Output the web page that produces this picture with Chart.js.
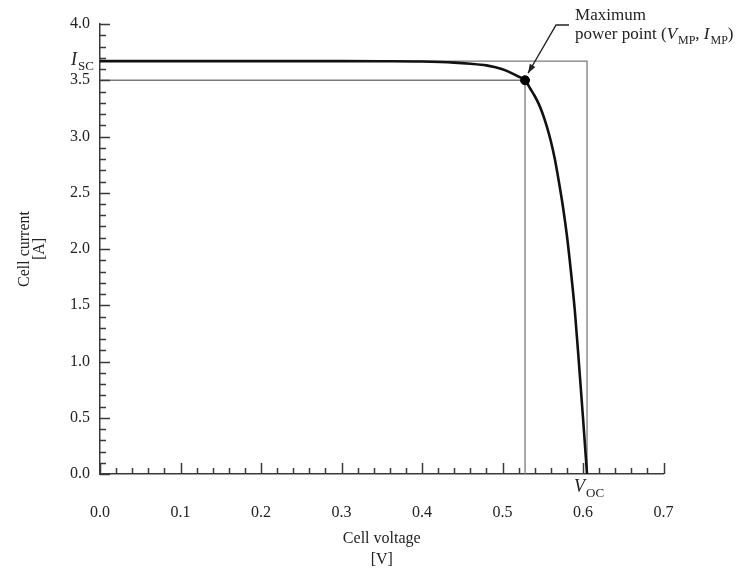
<!DOCTYPE html>
<html>
<head>
<meta charset="utf-8">
<script src="https://cdn.jsdelivr.net/npm/chart.js@4/dist/chart.umd.min.js"></script>
<style>
  html, body { margin: 0; padding: 0; background: #fff; }
  #wrap { width: 750px; height: 572px; position: relative; }
</style>
</head>
<body>
<div id="wrap"><canvas id="iv"></canvas></div>
<script>
// I–V characteristic of a single solar cell
const voltage = [0, 0.1, 0.2, 0.3, 0.35, 0.40, 0.44, 0.46, 0.48, 0.49, 0.50, 0.51, 0.52, 0.528,
                 0.535, 0.54, 0.545, 0.55, 0.555, 0.56, 0.565, 0.57, 0.575, 0.58, 0.585, 0.59, 0.595, 0.60, 0.605];
const current = [3.67, 3.67, 3.67, 3.67, 3.669, 3.666, 3.657, 3.647, 3.632, 3.617, 3.597, 3.568, 3.533, 3.50,
                 3.42, 3.36, 3.29, 3.20, 3.09, 2.96, 2.80, 2.60, 2.38, 2.12, 1.80, 1.44, 0.98, 0.50, 0];

const ISC = 3.67;   // short-circuit current [A]
const VOC = 0.605;  // open-circuit voltage [V]
const VMP = 0.528;  // voltage at maximum power point [V]
const IMP = 3.50;   // current at maximum power point [A]

const xTickLabels = ['0.0', '0.1', '0.2', '0.3', '0.4', '0.5', '0.6', '0.7'];
const yTickLabels = ['0.0', '0.5', '1.0', '1.5', '2.0', '2.5', '3.0', '3.5', '4.0'];

const SERIF = '"Liberation Serif", "DejaVu Serif", serif';
const AXIS_COLOR = '#3a3a3a';
const TEXT_COLOR = '#222';

const curvePoints = voltage.map((v, i) => ({ x: v, y: current[i] }));

// Draw a run of text pieces: {t, italic, sub}
function drawRich(ctx, x, y, pieces, size) {
  let cx = x;
  pieces.forEach(p => {
    const fs = p.sub ? Math.round(size * 0.72) : size;
    ctx.font = (p.italic ? 'italic ' : '') + fs + 'px ' + SERIF;
    const dy = p.sub ? size * 0.28 : 0;
    ctx.fillText(p.t, cx, y + dy);
    cx += ctx.measureText(p.t).width + (p.italic ? 1 : 0);
  });
  return cx;
}
function richWidth(ctx, pieces, size) {
  let w = 0;
  pieces.forEach(p => {
    const fs = p.sub ? Math.round(size * 0.72) : size;
    ctx.font = (p.italic ? 'italic ' : '') + fs + 'px ' + SERIF;
    w += ctx.measureText(p.t).width + (p.italic ? 1 : 0);
  });
  return w;
}

// Inward tick marks: long at labelled values, short in between
const tickMarks = {
  id: 'tickMarks',
  afterDatasetsDraw(chart) {
    const { ctx, chartArea, scales: { x, y } } = chart;
    ctx.save();
    ctx.strokeStyle = AXIS_COLOR;
    ctx.lineWidth = 1.5;
    ctx.beginPath();
    for (let i = 0; i <= 40; i++) {
      const py = Math.round(y.getPixelForValue(i / 10)) + 0.5;
      const len = i % 5 === 0 ? 10 : 6;
      ctx.moveTo(chartArea.left, py);
      ctx.lineTo(chartArea.left + len, py);
    }
    for (let i = 0; i <= 35; i++) {
      const px = Math.round(x.getPixelForValue(i * 0.02)) + 0.5;
      const len = i % 5 === 0 ? 11 : 6;
      ctx.moveTo(px, chartArea.bottom);
      ctx.lineTo(px, chartArea.bottom - len);
    }
    ctx.stroke();
    ctx.restore();
  }
};

// Isc, Voc and maximum-power-point labels
const annotations = {
  id: 'annotations',
  afterDraw(chart) {
    const { ctx, chartArea, scales: { x, y } } = chart;
    ctx.save();
    ctx.fillStyle = TEXT_COLOR;
    ctx.textBaseline = 'alphabetic';
    ctx.textAlign = 'left';

    // I_SC beside the y axis
    const iscPieces = [{ t: 'I', italic: true }, { t: 'SC', sub: true }];
    const iscY = y.getPixelForValue(ISC);
    const iscW = richWidth(ctx, iscPieces, 18);
    drawRich(ctx, chartArea.left - 6 - iscW, iscY + 4, iscPieces, 18);

    // V_OC under the x axis
    const vocX = x.getPixelForValue(VOC);
    drawRich(ctx, vocX - 13, chartArea.bottom + 18, [{ t: 'V', italic: true }, { t: 'OC', sub: true }], 18);

    // Maximum power point callout
    const mx = x.getPixelForValue(VMP);
    const my = y.getPixelForValue(IMP);
    const tx = mx + 50;
    ctx.font = '17px ' + SERIF;
    ctx.fillText('Maximum', tx, chartArea.top - 4);
    drawRich(ctx, tx, chartArea.top + 15, [
      { t: 'power point (' },
      { t: 'V', italic: true }, { t: 'MP', sub: true },
      { t: ', ' },
      { t: 'I', italic: true }, { t: 'MP', sub: true },
      { t: ')' }
    ], 17);

    // leader with arrowhead
    const sx = mx + 44, sy = chartArea.top + 1;
    const kx = mx + 31, ky = sy;
    const ax = mx + 3, ay = my - 7;
    ctx.strokeStyle = '#222';
    ctx.lineWidth = 1.4;
    ctx.beginPath();
    ctx.moveTo(sx, sy);
    ctx.lineTo(kx, ky);
    ctx.lineTo(ax, ay);
    ctx.stroke();
    const ang = Math.atan2(ay - ky, ax - kx);
    const hl = 9, hw = 3.2;
    ctx.fillStyle = '#222';
    ctx.beginPath();
    ctx.moveTo(ax, ay);
    ctx.lineTo(ax - hl * Math.cos(ang) + hw * Math.sin(ang), ay - hl * Math.sin(ang) - hw * Math.cos(ang));
    ctx.lineTo(ax - hl * Math.cos(ang) - hw * Math.sin(ang), ay - hl * Math.sin(ang) + hw * Math.cos(ang));
    ctx.closePath();
    ctx.fill();
    ctx.restore();
  }
};

new Chart(document.getElementById('iv'), {
  type: 'scatter',
  data: {
    datasets: [
      {
        label: 'Isc–Voc box',
        data: [{ x: 0, y: ISC }, { x: VOC, y: ISC }, { x: VOC, y: 0 }],
        showLine: true, borderColor: '#7a7a7a', borderWidth: 1.3, pointRadius: 0, tension: 0, order: 3
      },
      {
        label: 'MPP box',
        data: [{ x: 0, y: IMP }, { x: VMP, y: IMP }, { x: VMP, y: 0 }],
        showLine: true, borderColor: '#7a7a7a', borderWidth: 1.3, pointRadius: 0, tension: 0, order: 3
      },
      {
        label: 'I–V curve',
        data: curvePoints,
        showLine: true, borderColor: '#111', borderWidth: 2.6, pointRadius: 0,
        cubicInterpolationMode: 'monotone', order: 2
      },
      {
        label: 'Maximum power point',
        data: [{ x: VMP, y: IMP }],
        pointRadius: 4.5, pointBackgroundColor: '#000', pointBorderColor: '#000', order: 1
      }
    ]
  },
  options: {
    responsive: true,
    maintainAspectRatio: false,
    animation: false,
    layout: { padding: { left: 0, right: 86.5, top: 24, bottom: 0 } },
    plugins: { legend: { display: false }, tooltip: { enabled: false } },
    scales: {
      x: {
        type: 'linear', min: 0, max: 0.7,
        grid: { display: false, drawTicks: false },
        border: { display: true, color: AXIS_COLOR, width: 1.5 },
        ticks: {
          stepSize: 0.1, padding: 29, color: TEXT_COLOR,
          font: { family: SERIF, size: 16 },
          callback: (v) => xTickLabels[Math.round(v * 10)]
        },
        title: {
          display: true, text: ['Cell voltage', '[V]'], color: TEXT_COLOR,
          font: { family: SERIF, size: 16, lineHeight: 1.35 },
          padding: { top: 0, bottom: 1 }
        },
        afterFit(scale) { scale.height = 98; }
      },
      y: {
        type: 'linear', min: 0, max: 4,
        grid: { display: false, drawTicks: false },
        border: { display: true, color: AXIS_COLOR, width: 1.5 },
        ticks: {
          stepSize: 0.5, padding: 10, color: TEXT_COLOR,
          font: { family: SERIF, size: 16 },
          callback: (v) => yTickLabels[Math.round(v * 2)]
        },
        title: {
          display: true, text: ['Cell current', '[A]'], color: TEXT_COLOR,
          font: { family: SERIF, size: 16, lineHeight: 0.95 },
          padding: { top: 17, bottom: 0 }
        },
        afterFit(scale) { scale.width = 100; }
      }
    }
  },
  plugins: [tickMarks, annotations]
});
</script>
</body>
</html>
